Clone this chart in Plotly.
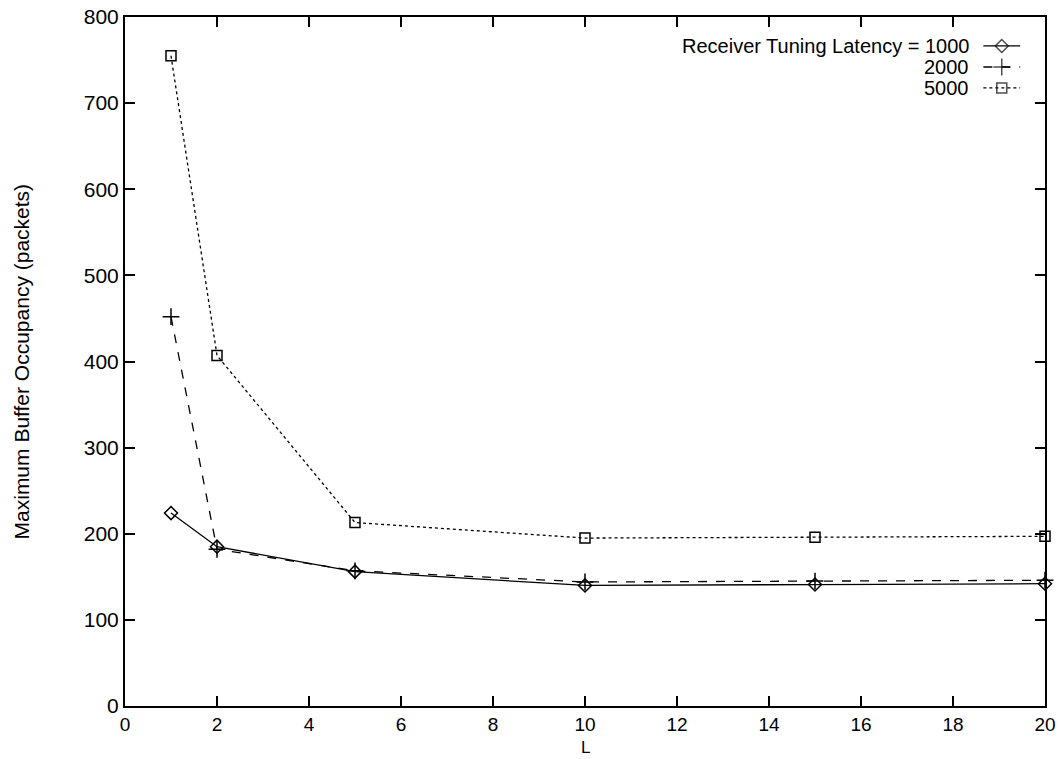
import plotly.graph_objects as go

L_values = [1, 2, 5, 10, 15, 20]
lat_1000 = [224, 185, 156, 140, 141, 142]
lat_2000 = [452, 182, 157, 144, 145, 146]
lat_5000 = [755, 407, 213, 195, 196, 197]

legend_labels = ["Receiver Tuning Latency = 1000", "2000", "5000"]

x_ticks = list(range(0, 21, 2))
y_ticks = list(range(0, 801, 100))

FONT = "Liberation Sans, Arial, sans-serif"
FS = 21
FS_X = 19
FS_LEG = 20

series = [
    (lat_1000, "solid", "diamond-open", 10),
    (lat_2000, "dash", "cross-thin-open", 12),
    (lat_5000, "dot", "square-open", 10),
]

fig = go.Figure()
for vals, dash, sym, ms in series:
    fig.add_trace(go.Scatter(
        x=L_values, y=vals, mode="lines+markers",
        line=dict(color="black", width=1.3, dash=dash),
        marker=dict(symbol=sym, size=ms, color="black",
                    line=dict(color="black", width=1.5)),
        showlegend=False, cliponaxis=False,
    ))

# custom legend (text on left, sample on right)
row_y = [0.958, 0.9274, 0.897]
for (vals, dash, sym, ms), lab, ry in zip(series, legend_labels, row_y):
    fig.add_annotation(xref="paper", yref="paper", x=0.9195, y=ry,
                       text=lab, showarrow=False, xanchor="right",
                       yanchor="middle",
                       font=dict(family=FONT, size=FS_LEG, color="black"))
    fig.add_trace(go.Scatter(
        x=[0.933, 0.953, 0.973], y=[ry] * 3, xaxis="x2", yaxis="y2",
        mode="lines+markers",
        line=dict(color="black", width=1.3, dash=dash),
        marker=dict(symbol=sym, size=[0, ms, 0], color="black",
                    line=dict(color="black", width=1.5)),
        showlegend=False, hoverinfo="skip",
    ))

# axis titles
fig.add_annotation(xref="paper", yref="paper", x=-0.112, y=0.5,
                   text="Maximum Buffer Occupancy (packets)", textangle=-90,
                   showarrow=False, xanchor="center", yanchor="middle",
                   font=dict(family=FONT, size=FS, color="black"))
fig.add_annotation(xref="paper", yref="paper", x=0.5, y=-0.0768,
                   text="L", showarrow=False, xanchor="center",
                   yanchor="bottom",
                   font=dict(family=FONT, size=17, color="black"))

axis_common = dict(
    showgrid=False, zeroline=False, showline=True, linecolor="black",
    linewidth=2, mirror="ticks", ticks="inside", ticklen=10, tickwidth=2,
    tickcolor="black", automargin=False,
)

fig.update_layout(
    width=1060, height=759,
    margin=dict(l=125, r=15, t=17, b=53),
    paper_bgcolor="white", plot_bgcolor="white",
    xaxis=dict(range=[0, 20], tickvals=x_ticks,
               tickfont=dict(family=FONT, size=FS_X, color="black"),
               **axis_common),
    yaxis=dict(range=[0, 800], tickvals=y_ticks,
               tickfont=dict(family=FONT, size=FS, color="black"),
               **axis_common),
    xaxis2=dict(range=[0, 1], overlaying="x", visible=False),
    yaxis2=dict(range=[0, 1], overlaying="y", visible=False),
)

fig.write_html("out.html", config={"displayModeBar": False},
               post_script="document.body.style.margin='0';document.body.style.overflow='hidden';")
